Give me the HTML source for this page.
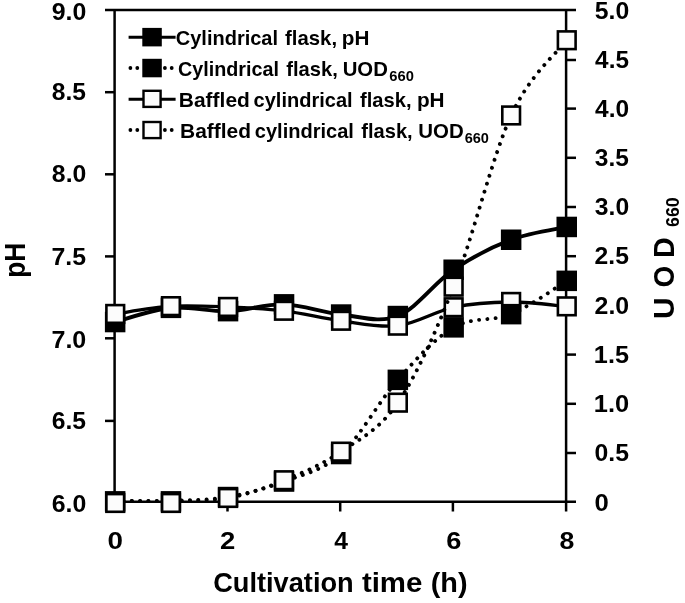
<!DOCTYPE html><html><head><meta charset="utf-8"><title>Chart</title><style>html,body{margin:0;padding:0;background:#fff}svg{display:block}text{font-family:"Liberation Sans",sans-serif;font-weight:bold;fill:#000}</style></head><body>
<svg width="685" height="603" viewBox="0 0 685 603">
<rect width="100%" height="100%" fill="#fff"/>
<g stroke="#000" stroke-width="2.5" fill="none" stroke-linecap="butt">
<path d="M105.0 10.0 H576.0"/>
<path d="M114.6 8.9 V503.1"/>
<path d="M566.1 8.9 V511.5"/>
<path d="M105.0 501.8 H576.0"/>
<path d="M105 92.2 H114.6"/>
<path d="M105 174.3 H114.6"/>
<path d="M105 256.4 H114.6"/>
<path d="M105 338.3 H114.6"/>
<path d="M105 420.9 H114.6"/>
<path d="M566.1 60.0 H576"/>
<path d="M566.1 108.6 H576"/>
<path d="M566.1 157.8 H576"/>
<path d="M566.1 207.0 H576"/>
<path d="M566.1 256.2 H576"/>
<path d="M566.1 305.4 H576"/>
<path d="M566.1 354.6 H576"/>
<path d="M566.1 403.8 H576"/>
<path d="M566.1 453.0 H576"/>
<path d="M227.5 502.0 V511.5"/>
<path d="M340.2 502.0 V511.5"/>
<path d="M452.9 502.0 V511.5"/>
</g>
<text x="51.73" y="19.90" font-size="23.6" textLength="34.57" lengthAdjust="spacingAndGlyphs">9.0</text>
<text x="51.86" y="100.00" font-size="23.6" textLength="34.18" lengthAdjust="spacingAndGlyphs">8.5</text>
<text x="51.86" y="182.00" font-size="23.6" textLength="34.44" lengthAdjust="spacingAndGlyphs">8.0</text>
<text x="51.48" y="264.60" font-size="23.6" textLength="34.57" lengthAdjust="spacingAndGlyphs">7.5</text>
<text x="51.47" y="347.50" font-size="23.6" textLength="34.83" lengthAdjust="spacingAndGlyphs">7.0</text>
<text x="51.74" y="428.60" font-size="23.6" textLength="34.31" lengthAdjust="spacingAndGlyphs">6.5</text>
<text x="51.73" y="512.00" font-size="23.6" textLength="34.57" lengthAdjust="spacingAndGlyphs">6.0</text>
<text x="594.76" y="19.30" font-size="23.6" textLength="34.44" lengthAdjust="spacingAndGlyphs">5.0</text>
<text x="595.14" y="68.10" font-size="23.6" textLength="33.80" lengthAdjust="spacingAndGlyphs">4.5</text>
<text x="595.13" y="116.70" font-size="23.6" textLength="34.05" lengthAdjust="spacingAndGlyphs">4.0</text>
<text x="594.89" y="165.90" font-size="23.6" textLength="34.05" lengthAdjust="spacingAndGlyphs">3.5</text>
<text x="594.88" y="215.10" font-size="23.6" textLength="34.31" lengthAdjust="spacingAndGlyphs">3.0</text>
<text x="594.64" y="264.30" font-size="23.6" textLength="34.31" lengthAdjust="spacingAndGlyphs">2.5</text>
<text x="594.63" y="313.50" font-size="23.6" textLength="34.57" lengthAdjust="spacingAndGlyphs">2.0</text>
<text x="593.86" y="362.70" font-size="23.6" textLength="35.10" lengthAdjust="spacingAndGlyphs">1.5</text>
<text x="593.85" y="411.90" font-size="23.6" textLength="35.38" lengthAdjust="spacingAndGlyphs">1.0</text>
<text x="594.51" y="461.10" font-size="23.6" textLength="34.44" lengthAdjust="spacingAndGlyphs">0.5</text>
<text x="594.57" y="510.90" font-size="23.6" textLength="14.28" lengthAdjust="spacingAndGlyphs">0</text>
<text x="107.44" y="549.00" font-size="23.6" textLength="15.46" lengthAdjust="spacingAndGlyphs">0</text>
<text x="220.14" y="549.00" font-size="23.6" textLength="15.29" lengthAdjust="spacingAndGlyphs">2</text>
<text x="334.33" y="549.00" font-size="23.6" textLength="13.72" lengthAdjust="spacingAndGlyphs">4</text>
<text x="446.35" y="549.00" font-size="23.6" textLength="15.14" lengthAdjust="spacingAndGlyphs">6</text>
<text x="559.60" y="549.00" font-size="23.6" textLength="14.83" lengthAdjust="spacingAndGlyphs">8</text>
<text x="213.21" y="591.90" font-size="27.3" textLength="140.46" lengthAdjust="spacingAndGlyphs">Cultivation</text>
<text x="361.91" y="591.90" font-size="27.3" textLength="60.46" lengthAdjust="spacingAndGlyphs">time</text>
<text x="430.66" y="591.90" font-size="27.3" textLength="36.84" lengthAdjust="spacingAndGlyphs">(h)</text>
<g transform="translate(24.7 276.1) rotate(-90)"><text x="-1.71" y="0.00" font-size="29.4" textLength="34.99" lengthAdjust="spacingAndGlyphs">pH</text></g>
<g transform="translate(673.6 317.3) rotate(-90)"><text x="-1.80" y="0.00" font-size="29.4" textLength="21.67" lengthAdjust="spacingAndGlyphs">U</text></g>
<g transform="translate(673.6 286.4) rotate(-90)"><text x="-1.12" y="0.00" font-size="29.4" textLength="21.71" lengthAdjust="spacingAndGlyphs">O</text></g>
<g transform="translate(673.6 256.2) rotate(-90)"><text x="-1.86" y="0.00" font-size="29.4" textLength="20.67" lengthAdjust="spacingAndGlyphs">D</text></g>
<g transform="translate(679.0 226.3) rotate(-90)"><text x="-0.62" y="0.00" font-size="18.8" textLength="29.60" lengthAdjust="spacingAndGlyphs">660</text></g>
<path d="M115.2 322.0 C124.5 319.6 152.1 309.6 170.9 307.8 C189.7 306.0 209.2 311.8 228.0 311.2 C246.8 310.6 265.1 303.8 284.0 304.4 C302.9 304.9 322.1 312.6 341.1 314.5 C360.1 316.4 379.1 323.5 397.9 316.0 C416.6 308.5 434.7 282.4 453.6 269.7 C472.5 257.0 492.3 246.8 511.2 239.7 C530.0 232.6 557.5 229.0 566.7 226.9" fill="none" stroke="#000" stroke-width="3.9"/>
<rect x="106.2" y="313.1" width="17.9" height="17.9" fill="#000" stroke="#000" stroke-width="2.6"/><rect x="162.0" y="298.9" width="17.9" height="17.9" fill="#000" stroke="#000" stroke-width="2.6"/><rect x="219.1" y="302.2" width="17.9" height="17.9" fill="#000" stroke="#000" stroke-width="2.6"/><rect x="275.1" y="295.4" width="17.9" height="17.9" fill="#000" stroke="#000" stroke-width="2.6"/><rect x="332.2" y="305.6" width="17.9" height="17.9" fill="#000" stroke="#000" stroke-width="2.6"/><rect x="388.9" y="307.1" width="17.9" height="17.9" fill="#000" stroke="#000" stroke-width="2.6"/><rect x="444.7" y="260.8" width="17.9" height="17.9" fill="#000" stroke="#000" stroke-width="2.6"/><rect x="502.2" y="230.8" width="17.9" height="17.9" fill="#000" stroke="#000" stroke-width="2.6"/><rect x="557.8" y="218.0" width="17.9" height="17.9" fill="#000" stroke="#000" stroke-width="2.6"/>
<path d="M115.2 314.0 C124.5 312.7 152.1 307.4 170.9 306.2 C189.7 305.0 209.2 306.2 228.0 307.0 C246.8 307.8 265.1 308.5 284.0 310.8 C302.9 313.1 322.1 318.3 341.1 320.8 C360.1 323.3 379.1 327.9 397.9 325.7 C416.6 323.4 434.7 311.2 453.6 307.3 C472.5 303.4 492.3 302.1 511.2 302.0 C530.0 301.9 557.5 305.7 566.7 306.4" fill="none" stroke="#000" stroke-width="3.3" />
<rect x="106.4" y="305.1" width="17.7" height="17.7" fill="#fcfcfc" stroke="#000" stroke-width="2.6"/><rect x="162.1" y="297.3" width="17.7" height="17.7" fill="#fcfcfc" stroke="#000" stroke-width="2.6"/><rect x="219.2" y="298.1" width="17.7" height="17.7" fill="#fcfcfc" stroke="#000" stroke-width="2.6"/><rect x="275.1" y="301.9" width="17.7" height="17.7" fill="#fcfcfc" stroke="#000" stroke-width="2.6"/><rect x="332.2" y="311.9" width="17.7" height="17.7" fill="#fcfcfc" stroke="#000" stroke-width="2.6"/><rect x="389.0" y="316.8" width="17.7" height="17.7" fill="#fcfcfc" stroke="#000" stroke-width="2.6"/><rect x="444.8" y="298.4" width="17.7" height="17.7" fill="#fcfcfc" stroke="#000" stroke-width="2.6"/><rect x="502.3" y="293.1" width="17.7" height="17.7" fill="#fcfcfc" stroke="#000" stroke-width="2.6"/><rect x="557.9" y="297.5" width="17.7" height="17.7" fill="#fcfcfc" stroke="#000" stroke-width="2.6"/>
<path d="M115.2 500.7 C124.5 500.7 152.1 501.3 170.9 500.7 C189.7 500.1 209.2 500.2 228.0 497.0 C246.8 493.8 265.1 488.7 284.0 481.5 C302.9 474.3 322.1 470.9 341.1 454.0 C360.1 437.1 379.1 400.9 397.9 379.8 C416.6 358.7 434.7 338.3 453.6 327.4 C472.5 316.4 492.3 321.9 511.2 314.1 C530.0 306.3 557.5 286.4 566.7 280.8" fill="none" stroke="#000" stroke-width="3.9" stroke-linecap="round" stroke-dasharray="0.01 8.3"/>
<rect x="106.2" y="492.4" width="17.9" height="17.9" fill="#000" stroke="#000" stroke-width="2.6"/><rect x="162.0" y="492.4" width="17.9" height="17.9" fill="#000" stroke="#000" stroke-width="2.6"/><rect x="219.1" y="488.1" width="17.9" height="17.9" fill="#000" stroke="#000" stroke-width="2.6"/><rect x="275.1" y="472.6" width="17.9" height="17.9" fill="#000" stroke="#000" stroke-width="2.6"/><rect x="332.2" y="445.1" width="17.9" height="17.9" fill="#000" stroke="#000" stroke-width="2.6"/><rect x="388.9" y="370.9" width="17.9" height="17.9" fill="#000" stroke="#000" stroke-width="2.6"/><rect x="444.7" y="318.4" width="17.9" height="17.9" fill="#000" stroke="#000" stroke-width="2.6"/><rect x="502.2" y="305.2" width="17.9" height="17.9" fill="#000" stroke="#000" stroke-width="2.6"/><rect x="557.8" y="271.9" width="17.9" height="17.9" fill="#000" stroke="#000" stroke-width="2.6"/>
<path d="M115.2 500.9 C124.5 500.9 152.1 501.4 170.9 500.9 C189.7 500.4 209.2 501.4 228.0 498.0 C246.8 494.6 265.1 488.0 284.0 480.3 C302.9 472.6 322.1 464.6 341.1 451.6 C360.1 438.7 379.1 430.1 397.9 402.6 C416.6 375.1 434.7 334.6 453.6 286.7 C472.5 238.8 492.3 156.5 511.2 115.4 C530.0 74.3 557.5 52.7 566.7 40.2" fill="none" stroke="#000" stroke-width="3.9" stroke-linecap="round" stroke-dasharray="0.01 8.3"/>
<rect x="106.4" y="494.1" width="17.7" height="17.7" fill="#fcfcfc" stroke="#000" stroke-width="2.6"/><rect x="162.1" y="494.1" width="17.7" height="17.7" fill="#fcfcfc" stroke="#000" stroke-width="2.6"/><rect x="219.2" y="489.1" width="17.7" height="17.7" fill="#fcfcfc" stroke="#000" stroke-width="2.6"/><rect x="275.1" y="471.4" width="17.7" height="17.7" fill="#fcfcfc" stroke="#000" stroke-width="2.6"/><rect x="332.2" y="442.8" width="17.7" height="17.7" fill="#fcfcfc" stroke="#000" stroke-width="2.6"/><rect x="389.0" y="393.8" width="17.7" height="17.7" fill="#fcfcfc" stroke="#000" stroke-width="2.6"/><rect x="444.8" y="277.8" width="17.7" height="17.7" fill="#fcfcfc" stroke="#000" stroke-width="2.6"/><rect x="502.3" y="106.6" width="17.7" height="17.7" fill="#fcfcfc" stroke="#000" stroke-width="2.6"/><rect x="557.9" y="31.4" width="17.7" height="17.7" fill="#fcfcfc" stroke="#000" stroke-width="2.6"/>
<path d="M128.6 37.3 H175.6" stroke="#000" stroke-width="3.1"/>
<rect x="143.5" y="29.1" width="17.1" height="16.1" fill="#000" stroke="#000" stroke-width="2.4"/>
<path d="M130.4 68.0 h0.01 M137.3 68.0 h0.01 M164.9 68.0 h0.01 M171.7 68.0 h0.01" stroke="#000" stroke-width="3.8" stroke-linecap="round"/>
<rect x="143.5" y="60.0" width="17.1" height="16.1" fill="#000" stroke="#000" stroke-width="2.4"/>
<path d="M128.6 99.3 H175.6" stroke="#000" stroke-width="3.1"/>
<rect x="143.5" y="90.8" width="17.1" height="16.1" fill="#fcfcfc" stroke="#000" stroke-width="2.4"/>
<path d="M130.4 130.0 h0.01 M137.3 130.0 h0.01 M164.9 130.0 h0.01 M171.7 130.0 h0.01" stroke="#000" stroke-width="3.8" stroke-linecap="round"/>
<rect x="143.5" y="122.0" width="17.1" height="16.1" fill="#fcfcfc" stroke="#000" stroke-width="2.4"/>
<text x="175.80" y="44.80" font-size="21.0" textLength="102.26" lengthAdjust="spacingAndGlyphs">Cylindrical</text>
<text x="285.10" y="44.80" font-size="21.0" textLength="51.97" lengthAdjust="spacingAndGlyphs">flask,</text>
<text x="341.86" y="44.80" font-size="21.0" textLength="27.55" lengthAdjust="spacingAndGlyphs">pH</text>
<text x="178.01" y="75.60" font-size="21.0" textLength="100.93" lengthAdjust="spacingAndGlyphs">Cylindrical</text>
<text x="286.30" y="75.60" font-size="21.0" textLength="51.56" lengthAdjust="spacingAndGlyphs">flask,</text>
<text x="342.68" y="75.60" font-size="21.0" textLength="45.18" lengthAdjust="spacingAndGlyphs">UOD</text>
<text x="389.28" y="81.00" font-size="14.6" textLength="24.58" lengthAdjust="spacingAndGlyphs">660</text>
<text x="178.84" y="106.80" font-size="21.0" textLength="71.01" lengthAdjust="spacingAndGlyphs">Baffled</text>
<text x="253.60" y="106.80" font-size="21.0" textLength="99.04" lengthAdjust="spacingAndGlyphs">cylindrical</text>
<text x="360.00" y="106.80" font-size="21.0" textLength="51.56" lengthAdjust="spacingAndGlyphs">flask,</text>
<text x="416.95" y="106.80" font-size="21.0" textLength="27.66" lengthAdjust="spacingAndGlyphs">pH</text>
<text x="180.04" y="137.80" font-size="21.0" textLength="71.01" lengthAdjust="spacingAndGlyphs">Baffled</text>
<text x="254.80" y="137.80" font-size="21.0" textLength="99.14" lengthAdjust="spacingAndGlyphs">cylindrical</text>
<text x="361.30" y="137.80" font-size="21.0" textLength="51.35" lengthAdjust="spacingAndGlyphs">flask,</text>
<text x="418.37" y="137.80" font-size="21.0" textLength="45.39" lengthAdjust="spacingAndGlyphs">UOD</text>
<text x="464.69" y="143.40" font-size="14.6" textLength="24.27" lengthAdjust="spacingAndGlyphs">660</text>
</svg></body></html>
